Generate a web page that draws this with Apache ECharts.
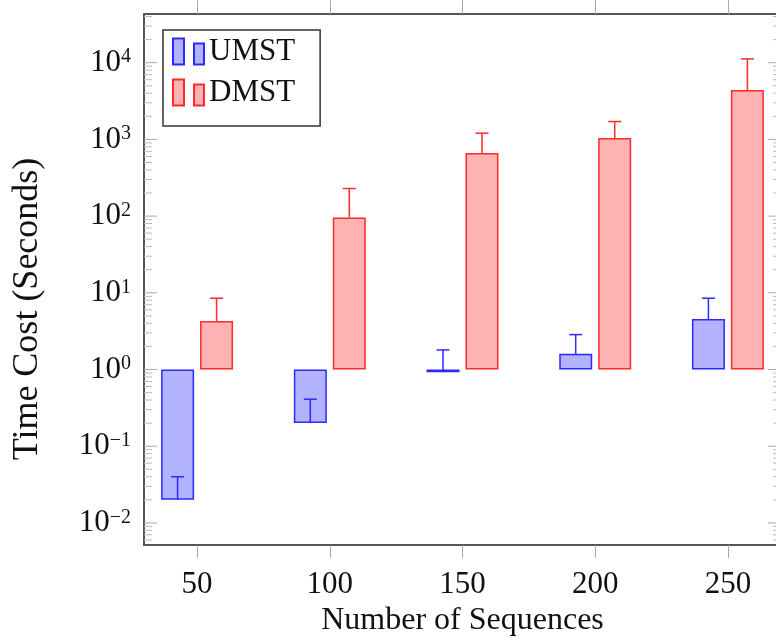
<!DOCTYPE html>
<html>
<head>
<meta charset="utf-8">
<script src="https://cdn.jsdelivr.net/npm/echarts@6/dist/echarts.min.js"></script>
<style>
  html, body { margin: 0; padding: 0; background: #fff; }
  #main { width: 776px; height: 642px; }
</style>
</head>
<body>
<div id="main"></div>
<script>
// number of sequences (x positions)
var sequences = [50, 100, 150, 200, 250];
// time cost in seconds, and the top of each error bar
var umstTime = [0.02, 0.2, 0.92, 1.6, 4.55];
var umstErrTop = [0.04, 0.41, 1.8, 2.85, 8.5];
var dmstTime = [4.3, 96, 665, 1040, 4420];
var dmstErrTop = [8.5, 229, 1205, 1710, 11200];
// exponents labelled on the y axis
var decades = [-2, -1, 0, 1, 2, 3, 4];

var font = "'Liberation Serif', 'Times New Roman', serif";
var xMin = 30, xMax = 270;
var yMin = -2.288, yMax = 4.635;
var frame = { show: true, onZero: false, lineStyle: { color: '#555', width: 2 } };

// log axis is drawn as a value axis in log10 space
var minorTicks = [];
for (var n = -3; n <= 4; n++) {
  for (var k = 2; k <= 9; k++) {
    var v = n + Math.log10(k);
    if (v > yMin && v < yMax) minorTicks.push(v);
  }
}

var barData = function (vals) {
  return sequences.map(function (s, i) { return [s, Math.log10(vals[i])]; });
};
var errData = function (vals, tops) {
  return sequences.map(function (s, i) { return [s, Math.log10(vals[i]), Math.log10(tops[i])]; });
};
// y tick marks: [x at left edge, log value, length in px]
var tickData = decades.map(function (d) { return [xMin, d, 13]; })
  .concat(minorTicks.map(function (m) { return [xMin, m, 8]; }));

function errorBars(offset) {
  return function (params, api) {
    var x = api.value(0);
    var p0 = api.coord([x, api.value(1)]);
    var p1 = api.coord([x, api.value(2)]);
    var cx = p0[0] + offset;
    var style = { stroke: api.visual('color'), lineWidth: 1.5 };
    return {
      type: 'group',
      children: [
        { type: 'line', shape: { x1: cx, y1: p0[1], x2: cx, y2: p1[1] }, style: style },
        { type: 'line', shape: { x1: cx - 6.5, y1: p1[1], x2: cx + 6.5, y2: p1[1] }, style: style }
      ]
    };
  };
}

// short gray ticks on the inner side of the left and right frame
function yTicks(params, api) {
  var len = api.value(2);
  var l = api.coord([xMin, api.value(1)]);
  var r = api.coord([xMax, api.value(1)]);
  var style = { stroke: len > 10 ? '#aaa' : '#bbb', lineWidth: 1 };
  return {
    type: 'group',
    children: [
      { type: 'line', shape: { x1: l[0], y1: l[1], x2: l[0] + len, y2: l[1] }, style: style },
      { type: 'line', shape: { x1: r[0] - len, y1: r[1], x2: r[0], y2: r[1] }, style: style }
    ]
  };
}

function supLabel(v) {
  var e = Math.round(v);
  var s = e < 0 ? '\u2212' + (-e) : String(e);
  return '{b|10}{s|' + s + '}';
}

var blueLine = '#2a2aff', redLine = '#ff2a2a';

var chart = echarts.init(document.getElementById('main'));
var option = {
  animation: false,
  backgroundColor: '#fff',
  grid: { left: 144, top: 14, width: 637, height: 531, outerBoundsMode: 'none' },
  legend: {
    data: ['UMST', 'DMST'],
    orient: 'vertical',
    left: 163, top: 30,
    padding: [6, 25, 18, 9],
    itemGap: 10,
    itemWidth: 31, itemHeight: 26,
    icon: 'path://M0,0L11,0L11,26L0,26Z M21,5L31,5L31,26L21,26Z',
    borderColor: '#333', borderWidth: 1.5, backgroundColor: '#fff',
    textStyle: { fontFamily: font, fontSize: 31, color: '#111' }
  },
  xAxis: [{
    type: 'value', min: xMin, max: xMax,
    axisLine: frame, splitLine: { show: false },
    axisTick: { show: true, length: 13, customValues: sequences, lineStyle: { color: '#aaa', width: 1 } },
    axisLabel: { customValues: sequences, margin: 24, fontFamily: font, fontSize: 31, color: '#111' },
    name: 'Number of Sequences', nameLocation: 'middle', nameGap: 57,
    nameTextStyle: { fontFamily: font, fontSize: 32, color: '#111' }
  }, {
    type: 'value', position: 'top', min: xMin, max: xMax,
    axisLine: frame, splitLine: { show: false }, axisLabel: { show: false },
    axisTick: { show: true, length: 16, customValues: sequences, lineStyle: { color: '#aaa', width: 1 } }
  }],
  yAxis: [{
    type: 'value', position: 'left', min: yMin, max: yMax,
    axisLine: frame, splitLine: { show: false },
    axisTick: { show: false },
    axisLabel: {
      customValues: decades, margin: 13,
      formatter: supLabel,
      rich: {
        b: { fontFamily: font, fontSize: 31, color: '#111' },
        s: { fontFamily: font, fontSize: 20, color: '#111', verticalAlign: 'top' }
      }
    },
    name: 'Time Cost (Seconds)', nameLocation: 'middle', nameGap: 98,
    nameTextStyle: { fontFamily: font, fontSize: 36, color: '#111', padding: [0, 59, 0, 0] }
  }],
  series: [
    {
      name: 'UMST', type: 'bar', barWidth: 33, barGap: '18%',
      data: barData(umstTime),
      itemStyle: { color: 'rgba(0,0,255,0.3)', borderColor: blueLine, borderWidth: 1.5 }
    },
    {
      name: 'DMST', type: 'bar', barWidth: 33, barGap: '18%',
      data: barData(dmstTime),
      itemStyle: { color: 'rgba(255,0,0,0.3)', borderColor: redLine, borderWidth: 1.5 }
    },
    {
      name: 'UMST error', type: 'custom', z: 5,
      itemStyle: { color: blueLine },
      renderItem: errorBars(-19.5),
      encode: { x: 0, y: 1 },
      data: errData(umstTime, umstErrTop)
    },
    {
      name: 'DMST error', type: 'custom', z: 5,
      itemStyle: { color: redLine },
      renderItem: errorBars(19.5),
      encode: { x: 0, y: 1 },
      data: errData(dmstTime, dmstErrTop)
    },
    {
      name: 'y ticks', type: 'custom', z: 1, silent: true,
      renderItem: yTicks,
      encode: { x: 0, y: 1 },
      data: tickData
    }
  ]
};
chart.setOption(option);
</script>
</body>
</html>
